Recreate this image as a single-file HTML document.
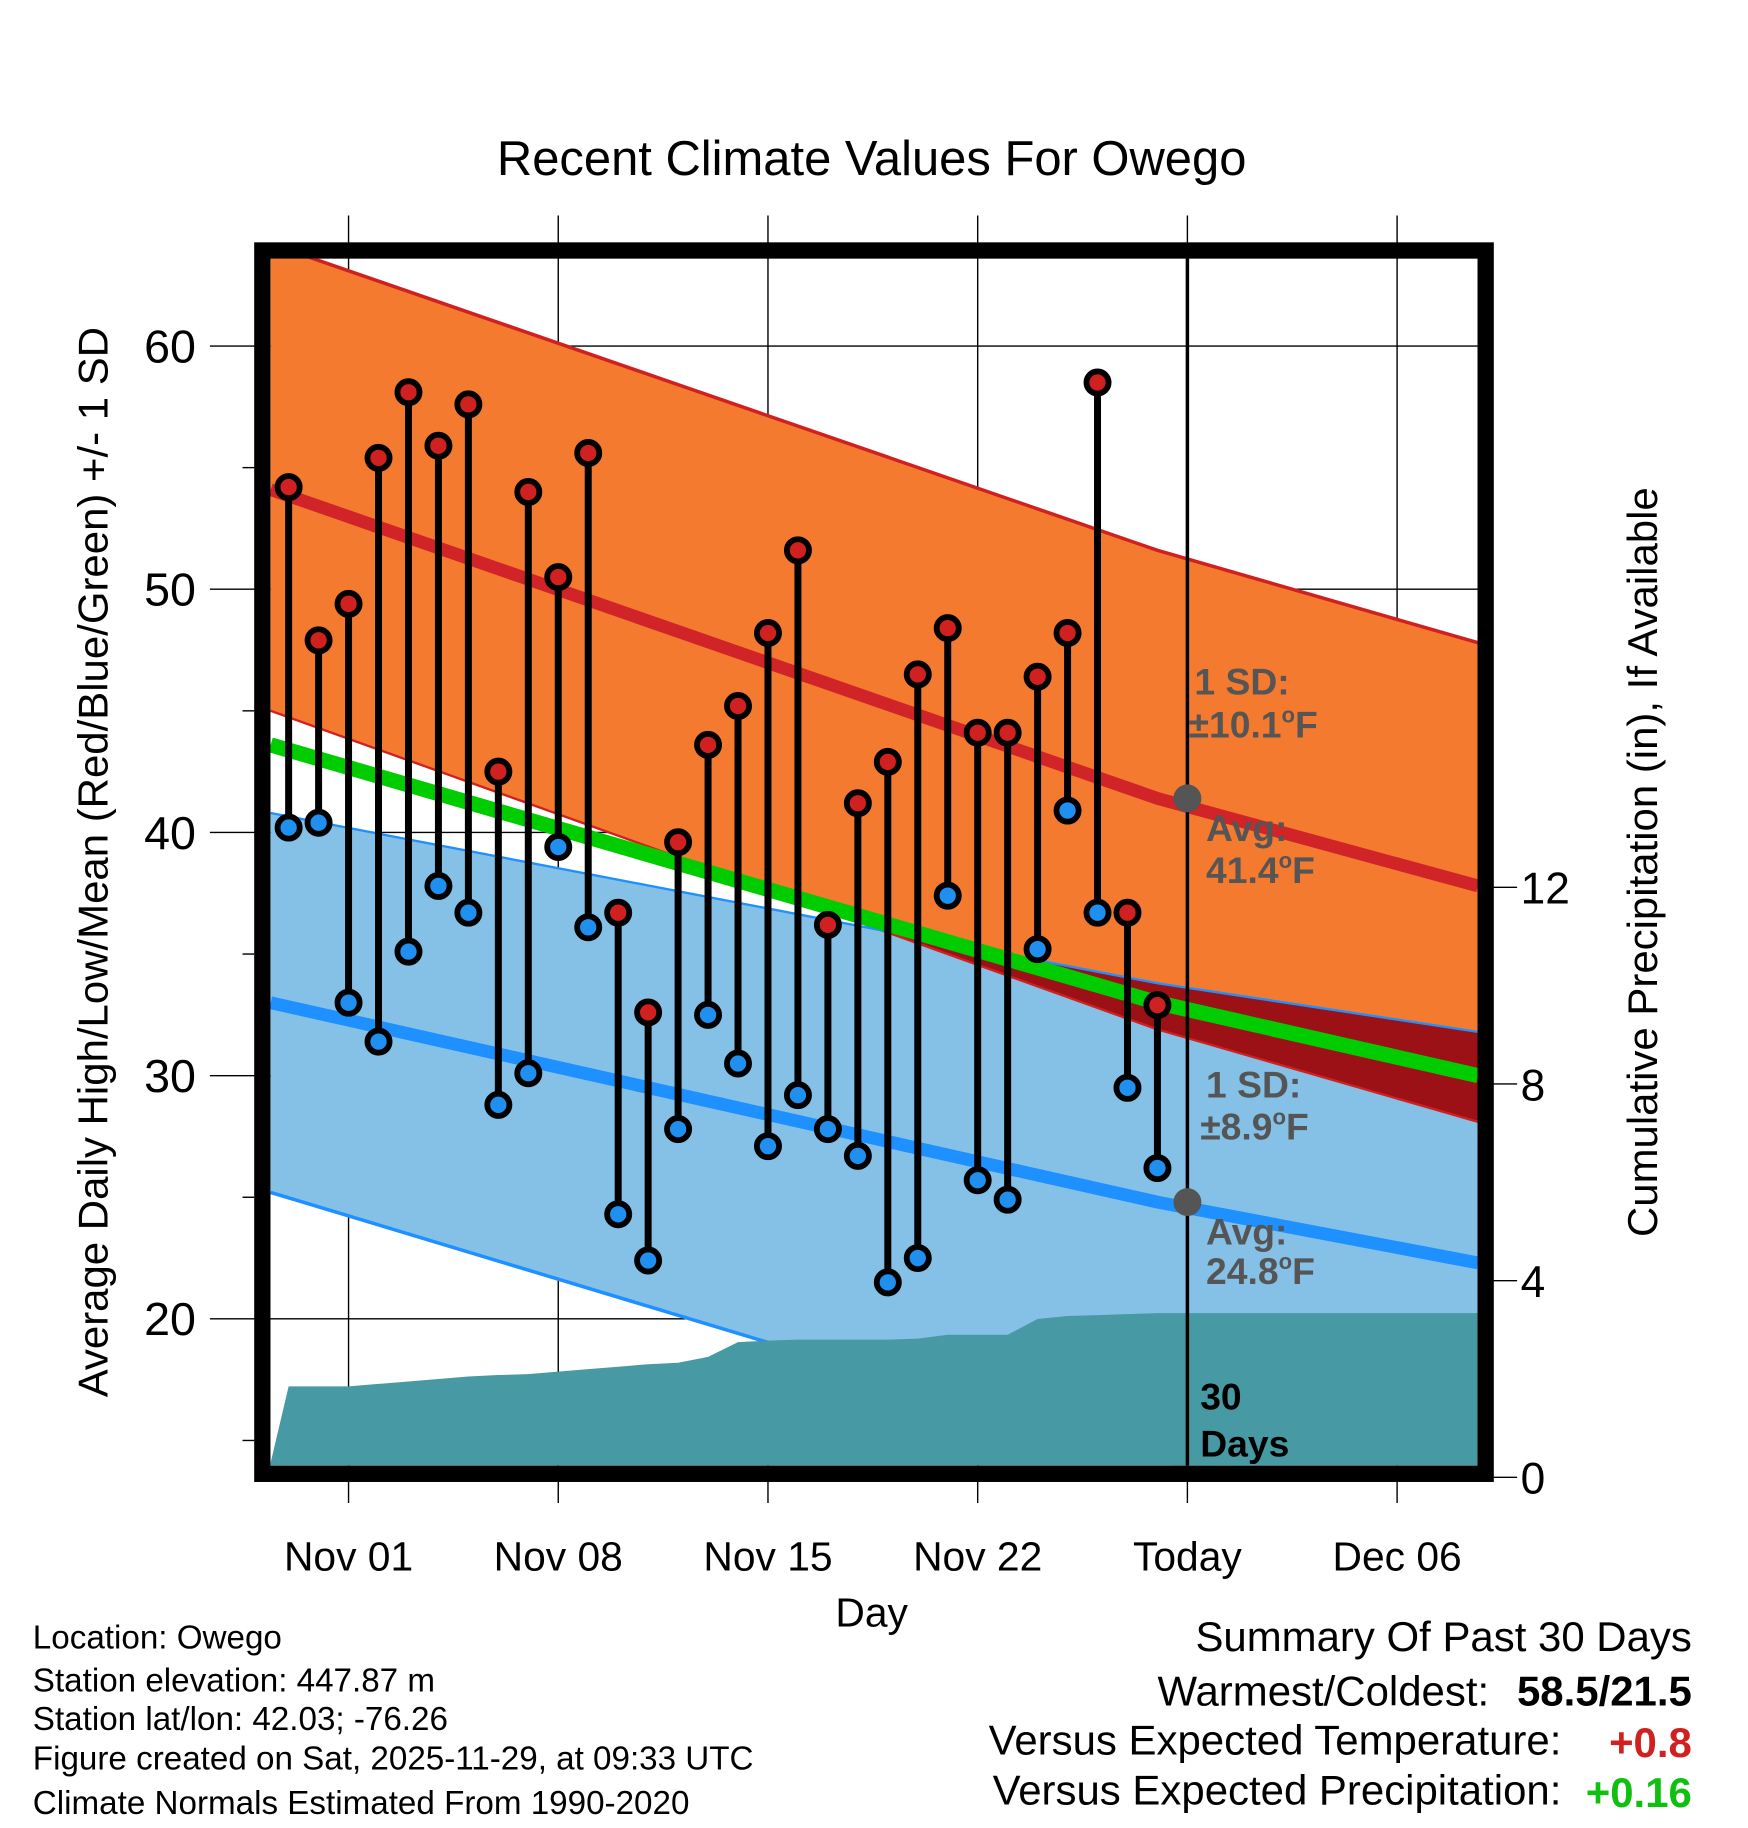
<!DOCTYPE html>
<html><head><meta charset="utf-8"><style>
html,body{margin:0;padding:0;background:#fff}
svg{display:block}
text{font-family:"Liberation Sans",Arial,sans-serif}
</style></head><body>
<svg id="chart" width="1748" height="1828" viewBox="0 0 1500 1569" xmlns="http://www.w3.org/2000/svg">
<defs><clipPath id="lowclip"><path id="lowclipPath" d=""/></clipPath>
<clipPath id="plotclip"><rect x="232" y="222" width="1036" height="1036"/></clipPath></defs>
<text x="748" y="150" font-size="42" text-anchor="middle">Recent Climate Values For Owego</text>
<g id="grid"></g>
<g id="bands" clip-path="url(#plotclip)"></g>
<g id="marks"></g>
<g id="axes"></g>
<rect x="225" y="215" width="1050" height="1050" fill="none" stroke="#000" stroke-width="14"/>
<g font-weight="bold" font-size="32" fill="#555">
<text x="1025" y="596">1 SD:</text>
<text x="1020" y="633">±10.1<tspan font-size="19" dy="-13">o</tspan><tspan dy="13">F</tspan></text>
<text x="1035" y="722">Avg:</text>
<text x="1035" y="758">41.4<tspan font-size="19" dy="-13">o</tspan><tspan dy="13">F</tspan></text>
<text x="1035" y="942">1 SD:</text>
<text x="1030" y="978">±8.9<tspan font-size="19" dy="-13">o</tspan><tspan dy="13">F</tspan></text>
<text x="1035" y="1068">Avg:</text>
<text x="1035" y="1102">24.8<tspan font-size="19" dy="-13">o</tspan><tspan dy="13">F</tspan></text>
<text x="1030" y="1210" fill="#000">30</text>
<text x="1030" y="1250" fill="#000">Days</text>
</g>
<text x="748" y="1396" font-size="35" text-anchor="middle">Day</text>
<text transform="translate(92,740) rotate(-90)" font-size="36" text-anchor="middle">Average Daily High/Low/Mean (Red/Blue/Green) +/- 1 SD</text>
<text transform="translate(1422,740) rotate(-90)" font-size="36" text-anchor="middle">Cumulative Precipitation (in), If Available</text>
<g font-size="28.5">
<text x="28" y="1415">Location: Owego</text>
<text x="28" y="1452">Station elevation: 447.87 m</text>
<text x="28" y="1485">Station lat/lon: 42.03; -76.26</text>
<text x="28" y="1519">Figure created on Sat, 2025-11-29, at 09:33 UTC</text>
<text x="28" y="1557">Climate Normals Estimated From 1990-2020</text>
</g>
<g font-size="36">
<text x="1452" y="1417" text-anchor="end">Summary Of Past 30 Days</text>
<text x="1278" y="1464" text-anchor="end">Warmest/Coldest:</text>
<text x="1452" y="1464" text-anchor="end" font-weight="bold">58.5/21.5</text>
<text x="1340" y="1506" text-anchor="end">Versus Expected Temperature:</text>
<text x="1452" y="1508" text-anchor="end" font-weight="bold" fill="#d02020">+0.8</text>
<text x="1340" y="1549" text-anchor="end">Versus Expected Precipitation:</text>
<text x="1452" y="1551" text-anchor="end" font-weight="bold" fill="#10c010">+0.16</text>
</g>
</svg>
<script>
// day offsets relative to Nov 01
const days = [-2,-1,0,1,2,3,4,5,6,7,8,9,10,11,12,13,14,15,16,17,18,19,20,21,22,23,24,25,26,27];
const highs = [54.2,47.9,49.4,55.4,58.1,55.9,57.6,42.5,54.0,50.5,55.6,36.7,32.6,39.6,43.6,45.2,48.2,51.6,36.2,41.2,42.9,46.5,48.4,44.1,44.1,46.4,48.2,58.5,36.7,32.9];
const lows = [40.2,40.4,33.0,31.4,35.1,37.8,36.7,28.8,30.1,39.4,36.1,24.3,22.4,27.8,32.5,30.5,27.1,29.2,27.8,26.7,21.5,22.5,37.4,25.7,24.9,35.2,40.9,36.7,29.5,26.2];
const precip = [1.85,1.85,1.85,1.9,1.95,2.0,2.05,2.08,2.1,2.15,2.2,2.25,2.3,2.33,2.45,2.75,2.78,2.8,2.8,2.8,2.8,2.82,2.9,2.9,2.9,3.22,3.28,3.3,3.32,3.34];
// normals at edge dates
const normDays = [-2.6,27,37.7];
const normHigh = [54.1,41.4,37.8];
const normHighTop = [64.2,51.6,47.8];
const normHighBot = [45.0,31.9,28.1];
const normLow = [33.0,24.8,22.3];
const normLowTop = [40.8,33.8,31.8];
const normLowBot = [25.2,14.2,10.3];
const normMean = [43.6,33.0,30.0];
const xTickDays = [0,7,14,21,28,35];
const xTickLabels = ["Nov 01","Nov 08","Nov 15","Nov 22","Today","Dec 06"];
const yTicks = [20,30,40,50,60];
const y2Ticks = [0,4,8,12];

const NS="http://www.w3.org/2000/svg";
const X=d=>299+d*25.714;
const Y=v=>297+(60-v)*20.875;
const Y2=p=>1268-p*42.2;
function mk(tag,attrs,parent){const e=document.createElementNS(NS,tag);for(const k in attrs)e.setAttribute(k,attrs[k]);parent.appendChild(e);return e;}
const grid=document.getElementById('grid'),bands=document.getElementById('bands'),marks=document.getElementById('marks'),axes=document.getElementById('axes');
function pts(arr){return normDays.map((d,i)=>X(d)+','+Y(arr[i]));}
function band(top,bot){const a=pts(top),b=pts(bot).reverse();return 'M'+a.join(' L')+' L'+b.join(' L')+' Z';}
function line(arr){return 'M'+pts(arr).join(' L');}

let e=mk('path',{d:band(normLowTop,normLowBot),fill:'#85c1e6'},bands);

document.getElementById('lowclipPath').setAttribute('d',band(normLowTop,normLowBot));
e=mk('path',{d:band(normHighTop,normHighBot),fill:'#f47a30'},bands);

e=mk('path',{d:band(normHighTop,normHighBot),fill:'#9b1116','clip-path':'url(#lowclip)'},bands);

[[normHighTop,'#d02020',3],[normHighBot,'#d02020',2],[normLowTop,'#1e90ff',2],[normLowBot,'#1e90ff',3]].forEach(([a,c,w])=>{mk('path',{d:line(a),stroke:c,'stroke-width':w,fill:'none'},bands);});
let pd='M'+X(-2.6)+','+1258+' L'+X(-2.6)+','+Y2(0.3);
days.forEach((d,i)=>{pd+=' L'+X(d)+','+Y2(precip[i]);});
pd+=' L'+X(37.7)+','+Y2(precip[precip.length-1])+' L'+X(37.7)+',1258 Z';
e=mk('path',{d:pd,fill:'#4799a3'},bands);

yTicks.forEach(v=>{mk('line',{x1:180,x2:1268,y1:Y(v),y2:Y(v),stroke:'#000','stroke-width':1.2},grid);});
xTickDays.forEach(d=>{mk('line',{x1:X(d),x2:X(d),y1:185,y2:1290,stroke:'#000','stroke-width':1.2},grid);});
e=mk('path',{d:line(normMean),stroke:'#00cc00','stroke-width':13,fill:'none'},bands);

e=mk('path',{d:line(normHigh),stroke:'#d02428','stroke-width':11,fill:'none'},bands);

e=mk('path',{d:line(normLow),stroke:'#1e90ff','stroke-width':11,fill:'none'},bands);

e=mk('line',{x1:X(28),x2:X(28),y1:222,y2:1258,stroke:'#000','stroke-width':3},marks);

mk('circle',{cx:X(28),cy:Y(41.4),r:12,fill:'#555'},marks);
mk('circle',{cx:X(28),cy:Y(24.8),r:12,fill:'#555'},marks);
days.forEach((d,i)=>{
  const g=mk('g',{},marks);
  
  
  mk('line',{x1:X(d),x2:X(d),y1:Y(highs[i]),y2:Y(lows[i]),stroke:'#000','stroke-width':6},g);
  const h=mk('circle',{cx:X(d),cy:Y(highs[i]),r:9.5,fill:'#d02020',stroke:'#000','stroke-width':5},g);
  
  
  const l=mk('circle',{cx:X(d),cy:Y(lows[i]),r:9.5,fill:'#2090f0',stroke:'#000','stroke-width':5},g);
  
  
});
yTicks.forEach(v=>{const t=mk('text',{x:168,y:Y(v)+14,'font-size':40,'text-anchor':'end'},axes);t.textContent=v;
  });
[15,25,35,45,55].forEach(v=>{mk('line',{x1:208,x2:218,y1:Y(v),y2:Y(v),stroke:'#000','stroke-width':1.2},axes);});
y2Ticks.forEach(p=>{mk('line',{x1:1280,x2:1302,y1:Y2(p),y2:Y2(p),stroke:'#000','stroke-width':1.2},axes);
  const t=mk('text',{x:1305,y:Y2(p)+14,'font-size':38},axes);t.textContent=p;
  });
xTickDays.forEach((d,i)=>{const t=mk('text',{x:X(d),y:1348,'font-size':35,'text-anchor':'middle'},axes);t.textContent=xTickLabels[i];
  });
</script>
</body></html>
